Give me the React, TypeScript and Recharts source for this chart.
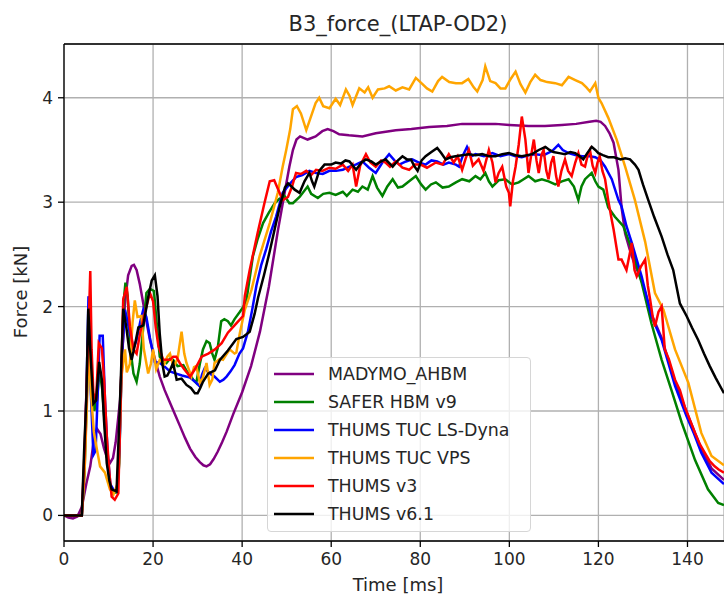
import React from "react";
import {
  LineChart,
  Line,
  XAxis,
  YAxis,
  CartesianGrid,
  ReferenceLine,
} from "recharts";

// [time ms, force kN]
const madymo: [number, number][] = [
  [0, 0], [1, -0.02], [2, -0.03], [3, -0.01], [4, 0.08], [5, 0.3], [5.9, 0.47], [6.7, 0.72], [7.4, 0.83],
  [8.2, 0.78], [9, 0.64], [9.6, 0.56], [10.3, 0.5], [11, 0.55], [11.6, 0.7], [12.6, 1.11], [13.2, 1.65],
  [13.7, 2.05], [14.4, 2.3], [15.2, 2.39], [15.7, 2.4], [16.3, 2.35], [17, 2.22], [17.8, 2.03], [18.5, 1.86],
  [19.3, 1.68], [20.4, 1.5], [21.5, 1.33], [22.6, 1.2], [23.8, 1.08], [25, 0.96], [26, 0.86], [27.2, 0.74],
  [28.3, 0.64], [29.5, 0.56], [30.5, 0.51], [31.3, 0.48], [32, 0.47], [32.8, 0.49], [33.6, 0.54], [34.5, 0.61],
  [35.5, 0.7], [36.5, 0.8], [38, 0.97], [40, 1.18], [42, 1.43], [44, 1.76], [46, 2.19], [48, 2.72],
  [49.5, 3.08], [50.6, 3.34], [51.4, 3.5], [52.2, 3.6], [53, 3.63], [54.7, 3.6], [56.5, 3.63], [58, 3.68],
  [59.2, 3.7], [60.5, 3.68], [61.8, 3.65], [64, 3.64], [67, 3.63], [70, 3.66], [74.5, 3.69], [78, 3.7],
  [82, 3.72], [86, 3.73], [89.4, 3.75], [93, 3.75], [96.9, 3.75], [100, 3.74], [104.3, 3.73], [108, 3.73],
  [111.8, 3.74], [115, 3.75], [118, 3.77], [119.5, 3.78], [120.5, 3.77], [121.5, 3.73], [122.5, 3.66],
  [123.4, 3.57], [124.5, 3.31], [125.2, 2.95], [126, 2.7], [127, 2.55], [128, 2.42], [129.7, 2.25],
  [131.9, 1.93], [134.2, 1.7], [137.2, 1.28], [139.8, 0.99], [143.1, 0.64], [145.4, 0.45], [148.2, 0.34],
];

const safer: [number, number][] = [
  [0, 0], [2, 0], [4, 0], [4.6, 0.4], [5.1, 1.1], [5.6, 1.8], [6.2, 1.35], [6.8, 1.0], [7.4, 1.1], [8, 1.4],
  [8.6, 1.2], [9.2, 0.85], [9.8, 0.5], [10.4, 0.26], [11.2, 0.22], [11.9, 0.22], [12.4, 0.5], [12.9, 1.4],
  [13.4, 2.05], [13.8, 2.23], [14.3, 2.1], [14.9, 1.6], [15.6, 1.36], [16.3, 1.28], [17, 1.45], [17.8, 1.8],
  [18.5, 2.13], [19.3, 2.17], [20.2, 2.15], [20.8, 1.85], [21.5, 1.52], [22.3, 1.48], [23, 1.46], [23.8, 1.5],
  [24.5, 1.49], [25.5, 1.43], [26.8, 1.44], [27.6, 1.38], [28.3, 1.35], [29, 1.3], [29.7, 1.27], [30.5, 1.45],
  [31.2, 1.59], [32, 1.67], [32.7, 1.65], [33.3, 1.55], [33.8, 1.49], [34.5, 1.6], [35.3, 1.86], [36, 1.88],
  [36.8, 1.86], [37.5, 1.82], [38.3, 1.88], [39.5, 1.95], [40.3, 2.0], [41, 2.07], [42.4, 2.48], [43.5, 2.65],
  [44.7, 2.8], [46, 2.9], [47.3, 2.99], [48.3, 3.03], [49.5, 3.06], [50.6, 2.99], [51.4, 2.99], [52.9, 3.05],
  [54.7, 3.15], [55.5, 3.08], [57, 3.04], [58.2, 3.08], [59.6, 3.09], [61, 3.07], [62.6, 3.1], [63.5, 3.06],
  [64.8, 3.12], [66, 3.1], [67, 3.15], [68.2, 3.12], [69.3, 3.25], [70.3, 3.14], [71.5, 3.06], [72.6, 3.15],
  [73.8, 3.22], [75, 3.14], [76, 3.15], [77.5, 3.2], [79, 3.25], [80.2, 3.17], [81.2, 3.12], [82.4, 3.17],
  [83.5, 3.19], [85, 3.14], [86.4, 3.15], [88, 3.19], [89.4, 3.22], [91, 3.2], [92.4, 3.25], [93.5, 3.22],
  [94.6, 3.28], [95.4, 3.2], [96.2, 3.15], [97.6, 3.21], [99.1, 3.22], [100.6, 3.17], [102.1, 3.19],
  [103.2, 3.22], [104.3, 3.25], [105.8, 3.2], [107.3, 3.22], [108.8, 3.2], [110.3, 3.17], [111.8, 3.2],
  [113.3, 3.22], [114.5, 3.15], [115.5, 3.02], [116.2, 3.15], [117, 3.22], [118.5, 3.28], [119.3, 3.2],
  [120, 3.15], [121.1, 3.12], [122.2, 2.95], [123.7, 2.86], [125.6, 2.77], [127.5, 2.55], [129.7, 2.23],
  [131.9, 1.84], [134.2, 1.49], [136.4, 1.2], [138.7, 0.89], [141.7, 0.53], [144.6, 0.25], [146.9, 0.12],
  [148.2, 0.1],
];

const tucDyna: [number, number][] = [
  [0, 0], [2, 0], [4, 0], [4.6, 0.5], [5.1, 1.3], [5.5, 2.1], [6, 1.2], [6.6, 0.58], [7.1, 0.62], [7.6, 1.2],
  [8, 1.72], [8.7, 1.72], [9.2, 1.11], [9.8, 0.6], [10.4, 0.3], [11.2, 0.24], [11.9, 0.23], [12.5, 0.7],
  [13, 1.5], [13.7, 1.97], [14.8, 1.75], [15.6, 1.6], [16.3, 1.68], [17.1, 1.85], [17.8, 1.97], [18.5, 1.9],
  [19.3, 1.7], [20.4, 1.47], [21.5, 1.46], [22.5, 1.43], [23.8, 1.38], [25, 1.36], [26.5, 1.34], [28.3, 1.32],
  [29.7, 1.27], [30.4, 1.24], [31, 1.35], [31.6, 1.41], [32.7, 1.36], [33.8, 1.33], [35, 1.28], [35.8, 1.3],
  [36.5, 1.33], [37.4, 1.38], [38.3, 1.44], [39.4, 1.55], [40.2, 1.6], [41.3, 1.76], [42.3, 1.98], [43.2, 2.2],
  [44.3, 2.4], [45.4, 2.55], [46.5, 2.72], [47.6, 2.86], [49.1, 3.09], [50.6, 3.17], [52.1, 3.24],
  [53.5, 3.26], [55.1, 3.3], [56.6, 3.28], [58.1, 3.27], [59.6, 3.3], [61.1, 3.3], [62.6, 3.31], [64.1, 3.34],
  [65.5, 3.36], [67, 3.39], [68.5, 3.33], [70, 3.28], [71.5, 3.38], [73, 3.46], [74.2, 3.4], [75.3, 3.36],
  [76.8, 3.39], [78.2, 3.41], [79.7, 3.38], [81.2, 3.36], [82.5, 3.4], [83.8, 3.39], [85.2, 3.36], [86.4, 3.38],
  [88, 3.36], [88.7, 3.34], [89.6, 3.45], [90.5, 3.53], [91.5, 3.44], [92.4, 3.46], [94.3, 3.44], [96.2, 3.47],
  [98, 3.44], [99.9, 3.46], [101.4, 3.44], [102.8, 3.43], [104.3, 3.45], [105.8, 3.46], [107.7, 3.45],
  [109.6, 3.49], [111, 3.55], [112, 3.5], [113.3, 3.47], [115, 3.45], [116.3, 3.44], [118, 3.44],
  [119.3, 3.43], [120.5, 3.4], [121.5, 3.34], [123, 3.22], [124.5, 3.02], [125.2, 2.96], [126.3, 2.77],
  [127.5, 2.61], [129.7, 2.29], [131.9, 1.91], [134.2, 1.68], [137.2, 1.24], [139.8, 0.95], [141.5, 0.78],
  [143.1, 0.6], [145.4, 0.41], [148.2, 0.3],
];

const tucVps: [number, number][] = [
  [0, 0], [2, 0], [4, 0], [4.6, 0.4], [5.1, 1.0], [5.5, 1.6], [6.1, 1.15], [6.7, 0.8], [7.4, 0.63], [8.1, 0.47],
  [9.2, 0.41], [10.3, 0.25], [11.1, 0.2], [12, 0.3], [12.6, 0.9], [12.9, 1.33], [13.7, 1.59], [14.1, 1.37],
  [14.8, 1.45], [15.4, 1.85], [15.9, 2.06], [16.5, 1.9], [17.4, 1.91], [17.9, 1.6], [18.9, 1.36], [19.5, 1.45],
  [20, 1.59], [20.7, 1.4], [21.5, 1.49], [22.5, 1.45], [23.2, 1.52], [23.8, 1.55], [24.6, 1.42], [25.5, 1.5],
  [26.4, 1.76], [27, 1.55], [27.5, 1.46], [28.6, 1.33], [29.2, 1.42], [29.7, 1.43], [30.5, 1.27], [31.2, 1.32],
  [32, 1.46], [32.7, 1.25], [33.3, 1.3], [33.8, 1.46], [35, 1.5], [35.7, 1.49], [37.2, 1.59], [38.3, 1.55],
  [38.7, 1.56], [39.5, 1.75], [40.6, 1.97], [42.1, 2.16], [43.9, 2.48], [46.2, 2.8], [48, 3.09], [49.1, 3.34],
  [49.9, 3.5], [50.8, 3.7], [51.4, 3.89], [52.3, 3.92], [53.2, 3.85], [54.4, 3.69], [55.3, 3.8], [56.5, 3.95],
  [57.3, 4.0], [58.2, 3.92], [59.6, 3.9], [61, 3.99], [62, 3.93], [63.3, 4.08], [64.1, 4.02], [64.8, 3.93],
  [66.3, 4.09], [67.5, 4.05], [68.3, 4.1], [69.3, 4.0], [70.5, 4.08], [72, 4.09], [73, 4.11], [74.5, 4.07],
  [76, 4.1], [77.5, 4.08], [79, 4.19], [80.5, 4.13], [81.5, 4.09], [82.7, 4.06], [84, 4.16], [84.9, 4.2],
  [86.5, 4.15], [88, 4.14], [89.4, 4.14], [90.8, 4.18], [92, 4.1], [92.8, 4.06], [94, 4.17], [94.6, 4.3],
  [95.7, 4.16], [96.9, 4.14], [98, 4.09], [99.1, 4.09], [100.3, 4.18], [101.4, 4.25], [102.5, 4.13],
  [103.6, 4.05], [104.7, 4.15], [105.8, 4.22], [107, 4.17], [108.5, 4.15], [110.3, 4.14], [111.8, 4.12],
  [113.3, 4.2], [114.8, 4.17], [116.3, 4.14], [117.3, 4.1], [118.1, 4.06], [119.3, 4.14], [120, 4.0],
  [120.7, 3.95], [122.2, 3.81], [124.1, 3.6], [126, 3.34], [128.2, 3.02], [130.5, 2.62], [132.7, 2.13],
  [134.6, 1.97], [137.2, 1.59], [140.2, 1.27], [143.1, 0.79], [145.4, 0.57], [148.2, 0.48],
];

const thumsV3: [number, number][] = [
  [0, 0], [2, 0], [4, 0], [4.6, 0.6], [5.2, 1.4], [5.6, 1.9], [5.9, 2.34], [6.2, 1.59], [6.6, 1.17], [7.2, 1.1],
  [7.8, 1.65], [8.5, 1.6], [9, 1.3], [9.6, 0.76], [10.2, 0.4], [10.7, 0.18], [11.4, 0.15], [12.2, 0.21],
  [12.9, 1.43], [13.3, 2.07], [14.1, 2.19], [14.8, 1.81], [15.6, 1.59], [16.3, 1.55], [17.1, 1.75], [18.5, 2.0],
  [19.3, 2.13], [20, 2.05], [20.6, 1.8], [21.2, 1.62], [22.3, 1.49], [23, 1.49], [23.8, 1.49], [24.5, 1.52],
  [25.2, 1.52], [26, 1.46], [27, 1.4], [28.3, 1.33], [29.4, 1.4], [30.9, 1.52], [32.4, 1.55], [33.9, 1.59],
  [35.4, 1.65], [36.8, 1.75], [38.7, 1.84], [40.2, 1.91], [40.6, 2.1], [41.7, 2.35], [43.5, 2.71], [45, 2.99],
  [46.2, 3.2], [47.2, 3.21], [48.4, 3.09], [49.1, 3.02], [50.3, 3.05], [51.2, 3.15], [52.1, 3.28], [53.2, 3.27],
  [54.4, 3.3], [55.5, 3.26], [56.6, 3.31], [58, 3.3], [59.6, 3.33], [61, 3.32], [62.6, 3.36], [63.8, 3.3],
  [64.8, 3.36], [65.6, 3.15], [66.5, 3.35], [67.8, 3.46], [68.8, 3.38], [70, 3.34], [71.2, 3.4], [72.2, 3.38],
  [73.2, 3.34], [74.5, 3.39], [76, 3.33], [77.5, 3.31], [78.8, 3.36], [80.1, 3.36], [81.5, 3.33], [83.5, 3.38],
  [85, 3.36], [86.4, 3.46], [87.5, 3.38], [88.4, 3.44], [89.4, 3.31], [90.2, 3.42], [90.9, 3.5], [91.8, 3.35],
  [93.1, 3.41], [94.2, 3.3], [95.4, 3.5], [96.2, 3.38], [96.9, 3.19], [97.6, 3.28], [98.4, 3.34], [99.3, 3.15],
  [99.9, 3.09], [100.2, 2.96], [100.8, 3.2], [101.4, 3.34], [102.1, 3.55], [102.8, 3.82], [103.6, 3.6],
  [104.3, 3.28], [104.9, 3.45], [105.5, 3.6], [106.1, 3.4], [106.6, 3.28], [107.2, 3.45], [107.7, 3.5],
  [108.3, 3.3], [108.8, 3.22], [109.4, 3.38], [109.9, 3.44], [110.5, 3.25], [111, 3.15], [111.7, 3.3],
  [112.5, 3.41], [113.2, 3.3], [114, 3.25], [114.8, 3.38], [115.5, 3.47], [116.2, 3.36], [117, 3.34],
  [117.6, 3.45], [118.1, 3.5], [118.7, 3.35], [119.3, 3.28], [119.8, 3.38], [120.3, 3.44], [120.9, 3.3],
  [121.5, 3.22], [122.2, 3.02], [123, 2.83], [123.4, 2.74], [124.5, 2.45], [125.2, 2.45], [126.3, 2.35],
  [127, 2.5], [127.5, 2.61], [128.1, 2.35], [128.6, 2.29], [129.5, 2.38], [130.5, 2.45], [131.1, 2.2],
  [131.6, 2.07], [132.2, 1.9], [132.7, 1.81], [133.5, 1.95], [134.2, 2.0], [134.9, 1.59], [135.8, 1.5],
  [137.2, 1.3], [138.3, 1.2], [139.4, 1.04], [140.5, 0.92], [141.7, 0.79], [142.8, 0.68], [143.9, 0.6],
  [145, 0.52], [146.1, 0.47], [147, 0.44], [148.2, 0.41],
];

const thumsV61: [number, number][] = [
  [0, 0], [2, 0], [4, 0], [4.5, 0.6], [5, 1.1], [5.45, 1.98], [6, 1.5], [6.6, 1.07], [7.2, 1.1], [7.9, 1.47],
  [8.5, 1.3], [9, 0.9], [9.6, 0.5], [10.2, 0.33], [10.7, 0.25], [11.8, 0.23], [12.5, 1.0], [13.3, 1.98],
  [14, 1.8], [14.6, 1.6], [15.2, 1.49], [16, 1.65], [16.7, 1.8], [17.8, 1.82], [18.9, 2.09], [19.7, 2.25],
  [20.4, 2.3], [21, 2.1], [21.5, 1.74], [22.1, 1.45], [22.6, 1.33], [23.2, 1.34], [23.8, 1.39], [24.5, 1.46],
  [25.3, 1.3], [26.4, 1.31], [27.5, 1.25], [28.5, 1.22], [29.4, 1.17], [30, 1.17], [30.6, 1.22], [31.2, 1.28],
  [32.4, 1.36], [33.9, 1.39], [35, 1.49], [36.8, 1.58], [38.7, 1.69], [40.2, 1.71], [41.7, 1.76], [42.8, 1.93],
  [43.6, 2.09], [44.9, 2.3], [46.2, 2.53], [47.3, 2.74], [48.4, 2.95], [49.6, 3.14], [50.3, 3.18], [51.1, 3.15],
  [51.8, 3.12], [52.9, 3.09], [54, 3.2], [55.1, 3.28], [55.7, 3.2], [56.2, 3.15], [57.3, 3.3], [58.5, 3.36],
  [60, 3.36], [61, 3.38], [62.2, 3.37], [63.2, 3.4], [64.1, 3.39], [65.6, 3.31], [66.8, 3.38], [67.8, 3.41],
  [69, 3.39], [70, 3.36], [71.2, 3.39], [72.2, 3.41], [73.8, 3.34], [75, 3.4], [76, 3.44], [77, 3.41],
  [77.9, 3.41], [78.6, 3.35], [79.4, 3.3], [80.3, 3.4], [81.2, 3.44], [82.5, 3.48], [83.8, 3.52], [84.7, 3.47],
  [85.7, 3.41], [86.8, 3.43], [87.9, 3.44], [89.4, 3.45], [90.9, 3.46], [92.4, 3.45], [93.9, 3.46], [95.4, 3.44],
  [96.9, 3.44], [98.4, 3.46], [99.9, 3.47], [101.4, 3.45], [102.8, 3.44], [104, 3.45], [105.1, 3.46],
  [106.6, 3.5], [108.1, 3.53], [109, 3.5], [109.9, 3.48], [111.2, 3.47], [112.5, 3.46], [113.7, 3.48],
  [114.8, 3.47], [115.8, 3.44], [116.6, 3.41], [117.5, 3.47], [118.5, 3.53], [119.3, 3.5], [120, 3.47],
  [121, 3.45], [122.2, 3.43], [123.5, 3.43], [125, 3.41], [126, 3.42], [127.1, 3.41], [128.2, 3.36], [129, 3.31],
  [130, 3.17], [131.2, 3.02], [132.5, 2.86], [134.2, 2.67], [135.5, 2.5], [136.8, 2.35], [138.3, 2.03],
  [139.8, 1.91], [141, 1.8], [142.4, 1.68], [143.7, 1.55], [145, 1.43], [146.3, 1.32], [148.2, 1.17],
];

const seriesNames = ["MADYMO_AHBM", "SAFER HBM v9", "THUMS TUC LS-Dyna", "THUMS TUC VPS", "THUMS v3", "THUMS v6.1"];
const seriesColors = ["#800080", "#008000", "#0000ff", "#ffa500", "#ff0000", "#000000"];
const seriesPoints = [madymo, safer, tucDyna, tucVps, thumsV3, thumsV61];

const xTicks = [0, 20, 40, 60, 80, 100, 120, 140];
const yTicks = [0, 1, 2, 3, 4];

const FONT = "'DejaVu Sans', sans-serif";
const TEXT = "#262626";

const series = seriesNames.map((name, i) => ({
  name,
  color: seriesColors[i],
  data: seriesPoints[i].map(([t, f]) => ({ t, f })),
}));

const LegendBox = () => (
  <div
    style={{
      position: "absolute",
      left: 267,
      top: 357,
      width: 264,
      height: 175,
      boxSizing: "border-box",
      border: "1px solid #d6d6d6",
      borderRadius: 4,
      background: "rgba(255,255,255,0.8)",
      paddingTop: 2,
      fontFamily: FONT,
      fontSize: 17.4,
      color: TEXT,
    }}
  >
    {series.map((s) => (
      <div key={s.name} style={{ height: 28, display: "flex", alignItems: "center" }}>
        <svg width={60} height={28} style={{ flex: "none" }}>
          <line x1={6} x2={46} y1={14} y2={14} stroke={s.color} strokeWidth={2.5} />
        </svg>
        <span style={{ whiteSpace: "nowrap" }}>{s.name}</span>
      </div>
    ))}
  </div>
);

export default function App() {
  return (
    <div style={{ position: "absolute", left: 0, top: 0, width: 724, height: 599, background: "#fff", overflow: "hidden" }}>
      <div
        style={{
          position: "absolute",
          left: 0,
          width: 796,
          top: 12,
          textAlign: "center",
          fontFamily: FONT,
          fontSize: 21,
          color: TEXT,
        }}
      >
        B3_force_(LTAP-OD2)
      </div>
      <div
        style={{
          position: "absolute",
          left: 0,
          width: 796,
          top: 574,
          textAlign: "center",
          fontFamily: FONT,
          fontSize: 18,
          color: TEXT,
        }}
      >
        Time [ms]
      </div>
      <div
        style={{
          position: "absolute",
          left: 20,
          top: 292,
          transform: "translate(-50%, -50%) rotate(-90deg)",
          whiteSpace: "nowrap",
          fontFamily: FONT,
          fontSize: 18,
          color: TEXT,
        }}
      >
        Force [kN]
      </div>
      <LineChart width={724} height={599} margin={{ top: 44, right: 0, left: 0, bottom: 0 }}>
        <CartesianGrid stroke="#b0b0b0" strokeWidth={1.3} />
        <XAxis
          dataKey="t"
          type="number"
          domain={[0, 148.2]}
          allowDataOverflow
          ticks={xTicks}
          height={58}
          tickSize={6}
          tickMargin={6}
          tick={{ fontSize: 17, fill: TEXT, fontFamily: FONT }}
          axisLine={{ stroke: "#000", strokeWidth: 1.3 }}
          tickLine={{ stroke: "#000", strokeWidth: 1.3 }}
        />
        <YAxis
          type="number"
          domain={[-0.245, 4.515]}
          allowDataOverflow
          ticks={yTicks}
          width={64}
          tickSize={6}
          tickMargin={5}
          tick={{ fontSize: 17, fill: TEXT, fontFamily: FONT }}
          axisLine={{ stroke: "#000", strokeWidth: 1.3 }}
          tickLine={{ stroke: "#000", strokeWidth: 1.3 }}
        />
        <ReferenceLine y={4.515} stroke="#000" strokeWidth={1.3} ifOverflow="visible" />
        {series.map((s) => (
          <Line
            key={s.name}
            data={s.data}
            dataKey="f"
            name={s.name}
            type="linear"
            stroke={s.color}
            strokeWidth={2.5}
            dot={false}
            activeDot={false}
            isAnimationActive={false}
          />
        ))}
      </LineChart>
      <LegendBox />
    </div>
  );
}
